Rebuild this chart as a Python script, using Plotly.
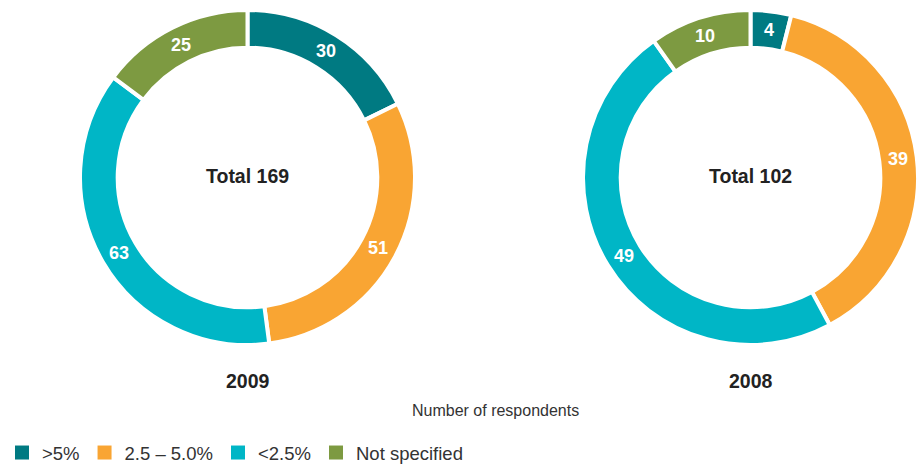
import math
import plotly.graph_objects as go

categories = [">5%", "2.5 – 5.0%", "<2.5%", "Not specified"]
values_2009 = [30, 51, 63, 25]
values_2008 = [4, 39, 49, 10]
years = ["2009", "2008"]
colors = ["#007A82", "#F9A533", "#00B6C6", "#7D9A41"]

W, H = 919, 466
FONT = "Liberation Sans, Arial, sans-serif"
HOLE = 0.775

# pie boxes in pixels: (x0, x1, y0, y1)
boxes = [(80, 415, 10, 345), (583, 918, 10, 345)]

def dom(b):
    x0, x1, y0, y1 = b
    return dict(x=[x0 / W, x1 / W], y=[1 - y1 / H, 1 - y0 / H])

fig = go.Figure()
annotations = []
for vals, b, yr in zip([values_2009, values_2008], boxes, years):
    fig.add_trace(go.Pie(
        labels=categories, values=vals, sort=False, direction="clockwise",
        rotation=0, hole=HOLE, domain=dom(b),
        marker=dict(colors=colors, line=dict(color="white", width=4)),
        textinfo="none", hoverinfo="label+value", showlegend=False,
    ))
    # value labels at the middle of each ring slice
    cx, cy = (b[0] + b[1]) / 2, (b[2] + b[3]) / 2
    r_out = min(b[1] - b[0], b[3] - b[2]) / 2
    r_mid = r_out * (1 + HOLE) / 2
    total = sum(vals)
    cum = 0
    for v in vals:
        ang = (cum + v / 2) / total * 2 * math.pi
        cum += v
        px = cx + r_mid * math.sin(ang)
        py = cy - r_mid * math.cos(ang)
        annotations.append(dict(
            text="<b>%d</b>" % v, x=px / W, y=1 - py / H, xref="paper", yref="paper",
            xanchor="center", yanchor="middle", showarrow=False,
            font=dict(family=FONT, size=18, color="white")))
    annotations.append(dict(
        text="<b>Total %d</b>" % total, x=cx / W, y=1 - (cy - 1) / H, xref="paper", yref="paper",
        xanchor="center", yanchor="middle", showarrow=False,
        font=dict(family=FONT, size=19.5, color="#222222")))
    annotations.append(dict(
        text="<b>%s</b>" % yr, x=cx / W, y=1 - 381 / H, xref="paper", yref="paper",
        xanchor="center", yanchor="middle", showarrow=False,
        font=dict(family=FONT, size=19.5, color="#222222")))

annotations.append(dict(
    text="Number of respondents", x=495 / W, y=1 - 410 / H, xref="paper", yref="paper",
    xanchor="center", yanchor="middle", showarrow=False,
    font=dict(family=FONT, size=16, color="#333333")))

# legend entries
for cat, col in zip(categories, colors):
    fig.add_trace(go.Scatter(
        x=[None], y=[None], mode="markers", name=cat,
        marker=dict(symbol="square", size=14, color=col, line=dict(width=0)),
        showlegend=True, hoverinfo="skip"))

fig.update_layout(
    width=W, height=H, margin=dict(l=0, r=0, t=0, b=0, autoexpand=False),
    paper_bgcolor="white", plot_bgcolor="white",
    annotations=annotations,
    xaxis=dict(visible=False), yaxis=dict(visible=False),
    legend=dict(orientation="h", x=2 / W, y=-6 / H, xanchor="left", yanchor="bottom",
                font=dict(family=FONT, size=18.5, color="#333333"),
                itemwidth=30, tracegroupgap=0, bgcolor="rgba(0,0,0,0)"),
)

fig.write_html("out.html")
